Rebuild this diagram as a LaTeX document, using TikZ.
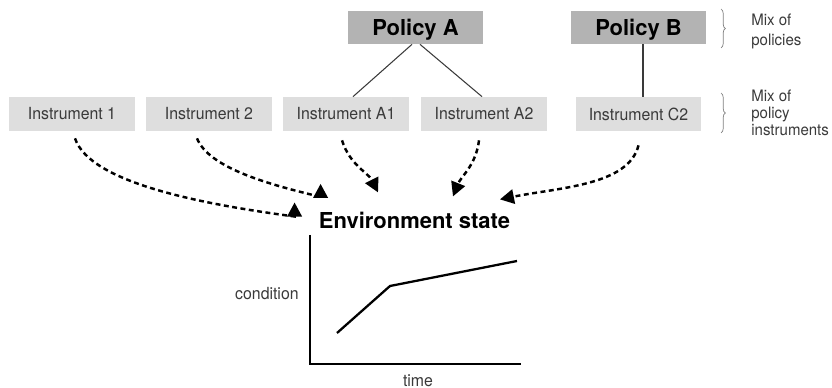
\documentclass[tikz,border=0pt]{standalone}
\usepackage{fontspec}
\setmainfont{TeX Gyre Heros}
\newfontfamily\narrowsans[FakeStretch=0.95]{TeX Gyre Heros}
\usetikzlibrary{arrows.meta,decorations.pathreplacing}
\definecolor{policygray}{HTML}{B3B3B3}
\definecolor{instgray}{HTML}{DEDEDE}
\definecolor{textgray}{HTML}{3A3A3A}
\tikzset{
    policybox/.style={fill=policygray, minimum width=2.7cm, minimum height=0.66cm, inner sep=0pt, text height=9pt, text depth=0pt, font=\fontsize{12.5}{14}\selectfont\bfseries},
    instbox/.style={fill=instgray, minimum width=2.52cm, minimum height=0.68cm, inner sep=0pt, text=textgray, font=\narrowsans\fontsize{9.5}{10}\selectfont},
    mixlabel/.style={align=left, inner sep=0pt, anchor=north west, text=textgray, font=\narrowsans\fontsize{9}{9.5}\selectfont},
    mixbrace/.style={draw=gray, line width=0.4pt, decorate, decoration={brace, amplitude=2.5pt}},
    flow/.style={line width=1.4pt, dash pattern=on 2.8pt off 2pt, -{Triangle[length=8pt, width=8.2pt]}}
}
\begin{document}
\begin{tikzpicture}[x=0.02cm, y=-0.02cm]
                \useasboundingbox (0,0) rectangle (832,388);
                % policies and instruments
                \node[policybox] (pola) at (415.5,27.5) {Policy A};
                \node[policybox] (polb) at (638.5,27.5) {Policy B};
                \node[instbox] (ins1) at (72,114) {Instrument 1};
                \node[instbox] (ins2) at (209,114) {Instrument 2};
                \node[instbox] (insa1) at (346,114) {Instrument A1};
                \node[instbox] (insa2) at (484,114) {Instrument A2};
                \node[instbox] (insc2) at (638.5,114) {Instrument C2};
                \draw[line width=0.6pt, textgray] ([xshift=-0.07cm]pola.south) -- ([xshift=0.14cm]insa1.north);
                \draw[line width=0.6pt, textgray] ([xshift=0.09cm]pola.south) -- ([xshift=-0.04cm]insa2.north);
                \draw[line width=0.6pt, textgray] ([xshift=0.09cm]polb.south) -- ([xshift=0.09cm]insc2.north);
                % braces on the right
                \draw[mixbrace] (721,9) -- (721,48);
                \draw[mixbrace] (721,93) -- (721,133);
                \node[mixlabel] (mixpol) at (751,13.5) {Mix of\\[1.8pt]policies};
                \node[mixlabel] (mixins) at (751,90) {Mix of\\policy\\instruments};
                % environment state
                \node[inner sep=0pt, font=\fontsize{12.5}{14}\selectfont\bfseries] (env) at (414.5,220.5) {Environment state};
                \draw[flow] ([shift={(3,7)}]ins1.south) .. controls +(15,45) and +(-90,-12) .. ([shift={(-24,-4)}]env.west) -- ++(0,-14);
                \draw[flow] ([shift={(-12,7)}]ins2.south) .. controls +(12,30) and +(-50,-12) .. ([shift={(2,-15)}]env.north west) -- ++(0,-13);
                \draw[flow] ([shift={(-4,9)}]insa1.south) .. controls +(8,25) and +(-10,-20) .. ([shift={(-36.5,-19.5)}]env.north);
                \draw[flow] ([shift={(-5,9)}]insa2.south) .. controls +(-3,25) and +(8,-20) .. ([shift={(38.5,-15.5)}]env.north);
                \draw[flow] ([shift={(0,14)}]insc2.south) .. controls +(-10,40) and +(60,-12) .. ([shift={(-10.5,-12.5)}]env.north east);
                % small graph
                \draw[line width=0.7pt] (310,235) -- (310,364) -- (521,364);
                \draw[line width=1.3pt] (337,333) -- (390,286) -- (517,261);
                \node[inner sep=0pt, anchor=base east, text=textgray, font=\narrowsans\fontsize{9.5}{10}\selectfont] (cond) at (299,299) {condition};
                \node[inner sep=0pt, anchor=base, text=textgray, font=\narrowsans\fontsize{9.5}{10}\selectfont] (time) at (418,386) {time};
            \end{tikzpicture}
\end{document}
